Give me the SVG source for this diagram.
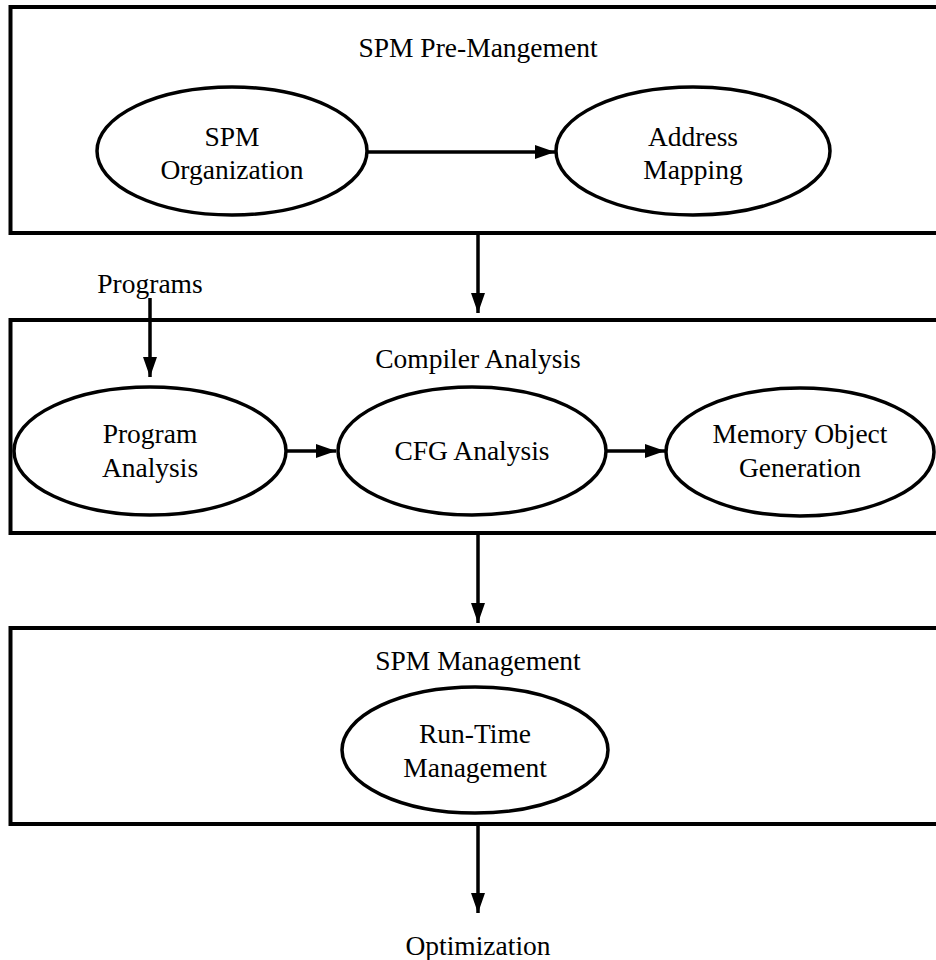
<svg xmlns="http://www.w3.org/2000/svg" width="936" height="960" viewBox="0 0 936 960">
<defs>
<style>
.box{fill:none;stroke:#000;stroke-width:4}
.node{fill:#fff;stroke:#000;stroke-width:3.5}
.t{font-family:"Liberation Serif","Times New Roman",serif;font-size:27.5px;fill:#000;text-anchor:middle}
.c{fill:none;stroke:#000;stroke-width:3.5}
</style>
<marker id="ah" markerUnits="userSpaceOnUse" markerWidth="22" markerHeight="15" refX="20" refY="7" orient="auto">
<path d="M0,0 L20,7 L0,14 z" fill="#000"/>
</marker>
</defs>
<rect width="936" height="960" fill="#fff"/>
<g id="pre-management">
<rect class="box" x="10.5" y="7" width="940" height="226"/>
<text class="t" x="478" y="57">SPM Pre-Mangement</text>
</g>
<g id="compiler-analysis">
<rect class="box" x="10.5" y="320" width="940" height="213"/>
<text class="t" x="478" y="368">Compiler Analysis</text>
</g>
<g id="spm-management">
<rect class="box" x="10.5" y="628" width="940" height="196"/>
<text class="t" x="478" y="670">SPM Management</text>
</g>
<g id="connectors">
<line class="c" x1="366" y1="152" x2="555" y2="152" marker-end="url(#ah)"/>
<line class="c" x1="478" y1="233" x2="478" y2="313" marker-end="url(#ah)"/>
<line class="c" x1="150" y1="298" x2="150" y2="377" marker-end="url(#ah)"/>
<line class="c" x1="286" y1="451" x2="336" y2="451" marker-end="url(#ah)"/>
<line class="c" x1="606" y1="451" x2="665" y2="451" marker-end="url(#ah)"/>
<line class="c" x1="478" y1="533" x2="478" y2="623" marker-end="url(#ah)"/>
<line class="c" x1="478" y1="824" x2="478" y2="913" marker-end="url(#ah)"/>
</g>
<g id="spm-organization">
<ellipse class="node" cx="232" cy="151" rx="135" ry="64"/>
<text class="t" x="232" y="146">SPM</text>
<text class="t" x="232" y="179">Organization</text>
</g>
<g id="address-mapping">
<ellipse class="node" cx="693" cy="151" rx="137" ry="64"/>
<text class="t" x="693" y="146">Address</text>
<text class="t" x="693" y="179">Mapping</text>
</g>
<g id="programs">
<text class="t" x="150" y="293">Programs</text>
</g>
<g id="program-analysis">
<ellipse class="node" cx="150" cy="451" rx="136" ry="64"/>
<text class="t" x="150" y="443">Program</text>
<text class="t" x="150" y="477">Analysis</text>
</g>
<g id="cfg-analysis">
<ellipse class="node" cx="472" cy="451" rx="134" ry="64"/>
<text class="t" x="472" y="460">CFG Analysis</text>
</g>
<g id="memory-object-generation">
<ellipse class="node" cx="800" cy="452" rx="134" ry="64"/>
<text class="t" x="800" y="443">Memory Object</text>
<text class="t" x="800" y="477">Generation</text>
</g>
<g id="run-time-management">
<ellipse class="node" cx="475" cy="750" rx="133" ry="63"/>
<text class="t" x="475" y="743">Run-Time</text>
<text class="t" x="475" y="777">Management</text>
</g>
<g id="optimization">
<text class="t" x="478" y="955">Optimization</text>
</g>
</svg>
